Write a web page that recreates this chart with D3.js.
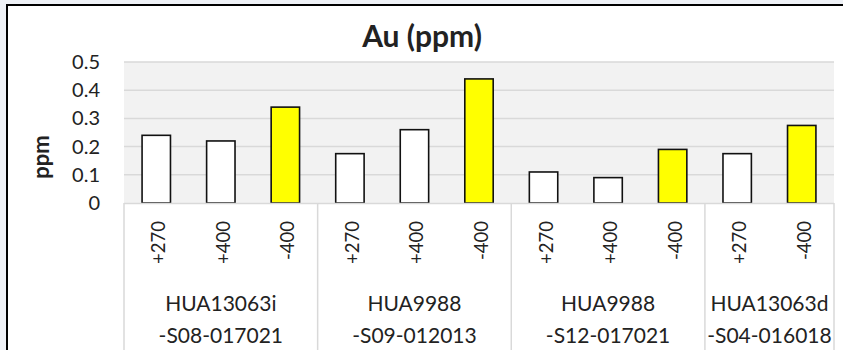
<!DOCTYPE html>
<html>
<head>
<meta charset="utf-8">
<script src="https://cdn.jsdelivr.net/npm/d3@7"></script>
<style>
  html, body { margin: 0; padding: 0; background: #eef1f6; }
  svg { display: block; }
  text { font-family: Lato, "Open Sans", sans-serif; fill: #222; }
</style>
</head>
<body>
<svg id="chart" width="843" height="350"></svg>
<script>
// Au concentration per sample and level
const groupLine1 = ["HUA13063i", "HUA9988", "HUA9988", "HUA13063d"];
const groupLine2 = ["-S08-017021", "-S09-012013", "-S12-017021", "-S04-016018"];
const levels = ["+270", "+400", "-400", "+270", "+400", "-400", "+270", "+400", "-400", "+270", "-400"];
const groupIndex = [0, 0, 0, 1, 1, 1, 2, 2, 2, 3, 3];
const auValues = [0.24, 0.22, 0.34, 0.175, 0.26, 0.44, 0.11, 0.09, 0.19, 0.175, 0.275];
const yTicks = [0, 0.1, 0.2, 0.3, 0.4, 0.5];
const yTickLabels = ["0", "0.1", "0.2", "0.3", "0.4", "0.5"];

const svg = d3.select("#chart");

const plot = { left: 124, right: 834, top: 62, bottom: 203 };

// chart frame
svg.append("rect")
  .attr("x", 7).attr("y", 5).attr("width", 860).attr("height", 360)
  .attr("fill", "#fff").attr("stroke", "#000").attr("stroke-width", 2);

const x = d3.scaleBand()
  .domain(d3.range(levels.length))
  .range([plot.left, plot.right])
  .paddingInner(0.56)
  .paddingOuter(0.28);

const y = d3.scaleLinear().domain([0, 0.5]).range([plot.bottom, plot.top]);

// plot background
svg.append("rect")
  .attr("x", plot.left).attr("y", plot.top)
  .attr("width", plot.right - plot.left).attr("height", plot.bottom - plot.top)
  .attr("fill", "#f2f2f2");

// gridlines
svg.append("g").selectAll("line").data(yTicks.filter(t => t > 0)).join("line")
  .attr("x1", plot.left).attr("x2", plot.right)
  .attr("y1", d => y(d)).attr("y2", d => y(d))
  .attr("stroke", "#d9d9d9").attr("stroke-width", 1.5);

// y axis labels
const yAxis = d3.axisLeft(y).tickValues(yTicks)
  .tickFormat((d, i) => yTickLabels[i]).tickSize(0).tickPadding(0);
const yg = svg.append("g").attr("transform", `translate(100,0)`).call(yAxis);
yg.select(".domain").remove();
yg.selectAll("text")
  .attr("font-size", 20).attr("font-family", "Lato, sans-serif").attr("fill", "#222");

// bars
svg.append("g").selectAll("rect").data(auValues).join("rect")
  .attr("x", (d, i) => x(i))
  .attr("width", x.bandwidth())
  .attr("y", d => y(d))
  .attr("height", d => y(0) - y(d))
  .attr("fill", (d, i) => levels[i] === "-400" ? "#ffff00" : "#ffffff")
  .attr("stroke", "#111").attr("stroke-width", 1.6);

// category box below the plot
const gap = (x.step() - x.bandwidth()) / 2;
const groups = d3.range(groupLine1.length).map(g => {
  const idx = groupIndex.map((v, i) => v === g ? i : -1).filter(i => i >= 0);
  return {
    g,
    x0: x(idx[0]) - gap,
    x1: x(idx[idx.length - 1]) + x.bandwidth() + gap
  };
});

const catBox = svg.append("g");
catBox.append("line")
  .attr("x1", plot.left).attr("x2", plot.right)
  .attr("y1", plot.bottom + 0.5).attr("y2", plot.bottom + 0.5)
  .attr("stroke", "#d9d9d9").attr("stroke-width", 1.5);
const bounds = [groups[0].x0].concat(groups.map(g => g.x1));
catBox.selectAll("line.sep").data(bounds).join("line")
  .attr("class", "sep")
  .attr("x1", d => d).attr("x2", d => d)
  .attr("y1", plot.bottom).attr("y2", 360)
  .attr("stroke", "#d9d9d9").attr("stroke-width", 1.5);

// level labels, rotated
svg.append("g").selectAll("text").data(levels).join("text")
  .attr("transform", (d, i) => `translate(${x(i) + x.bandwidth() / 2 + 9},221) rotate(-90)`)
  .attr("text-anchor", "end")
  .attr("font-size", 18.5)
  .text(d => d);

// group labels
const gl = svg.append("g");
gl.selectAll("text.l1").data(groups).join("text")
  .attr("class", "l1")
  .attr("x", d => (d.x0 + d.x1) / 2).attr("y", 311)
  .attr("text-anchor", "middle").attr("font-size", 21)
  .text(d => groupLine1[d.g]);
gl.selectAll("text.l2").data(groups).join("text")
  .attr("class", "l2")
  .attr("x", d => (d.x0 + d.x1) / 2).attr("y", 343)
  .attr("text-anchor", "middle").attr("font-size", 21)
  .text(d => groupLine2[d.g]);

// title
svg.append("text")
  .attr("x", 422).attr("y", 47)
  .attr("text-anchor", "middle")
  .attr("font-size", 30).attr("font-weight", "bold").attr("fill", "#111")
  .text("Au (ppm)");

// y axis title
svg.append("text")
  .attr("transform", "translate(49,157) rotate(-90)")
  .attr("text-anchor", "middle")
  .attr("font-size", 22).attr("font-weight", "bold").attr("fill", "#111")
  .text("ppm");
</script>
</body>
</html>
